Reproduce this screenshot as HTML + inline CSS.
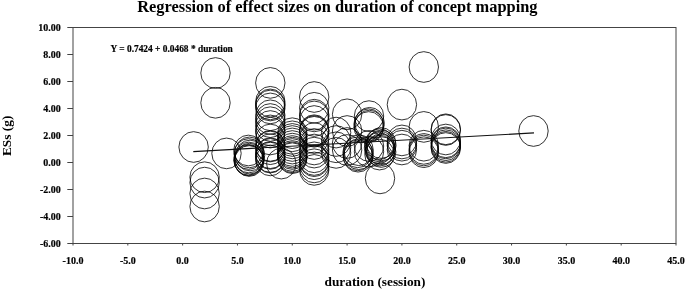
<!DOCTYPE html>
<html><head><meta charset="utf-8"><title>chart</title>
<style>html,body{margin:0;padding:0;background:#fff;}body{width:685px;height:290px;overflow:hidden;}svg{display:block;will-change:transform;}text{font-family:"Liberation Serif",serif;font-weight:bold;fill:#000;}</style>
</head><body>
<svg width="685" height="290" viewBox="0 0 685 290">
<rect x="0" y="0" width="685" height="290" fill="#fff"/>
<g fill="none" stroke="#444" stroke-width="1">
<rect x="73.0" y="27.5" width="603.0" height="216.0"/>
<line x1="73.00" y1="243.5" x2="73.00" y2="245.5"/>
<line x1="127.82" y1="243.5" x2="127.82" y2="245.5"/>
<line x1="182.64" y1="243.5" x2="182.64" y2="245.5"/>
<line x1="237.45" y1="243.5" x2="237.45" y2="245.5"/>
<line x1="292.27" y1="243.5" x2="292.27" y2="245.5"/>
<line x1="347.09" y1="243.5" x2="347.09" y2="245.5"/>
<line x1="401.91" y1="243.5" x2="401.91" y2="245.5"/>
<line x1="456.73" y1="243.5" x2="456.73" y2="245.5"/>
<line x1="511.55" y1="243.5" x2="511.55" y2="245.5"/>
<line x1="566.36" y1="243.5" x2="566.36" y2="245.5"/>
<line x1="621.18" y1="243.5" x2="621.18" y2="245.5"/>
<line x1="676.00" y1="243.5" x2="676.00" y2="245.5"/>
<line x1="67.3" y1="27.50" x2="73.0" y2="27.50"/>
<line x1="67.3" y1="54.50" x2="73.0" y2="54.50"/>
<line x1="67.3" y1="81.50" x2="73.0" y2="81.50"/>
<line x1="67.3" y1="108.50" x2="73.0" y2="108.50"/>
<line x1="67.3" y1="135.50" x2="73.0" y2="135.50"/>
<line x1="67.3" y1="162.50" x2="73.0" y2="162.50"/>
<line x1="67.3" y1="189.50" x2="73.0" y2="189.50"/>
<line x1="67.3" y1="216.50" x2="73.0" y2="216.50"/>
<line x1="67.3" y1="243.50" x2="73.0" y2="243.50"/>
</g>
<g fill="none" stroke="#000" stroke-width="0.8">
<ellipse cx="193.6" cy="147.0" rx="14.7" ry="15.35"/>
<ellipse cx="204.6" cy="177.2" rx="14.7" ry="15.35"/>
<ellipse cx="204.6" cy="182.6" rx="14.7" ry="15.35"/>
<ellipse cx="204.6" cy="193.5" rx="14.7" ry="15.35"/>
<ellipse cx="204.6" cy="206.5" rx="14.7" ry="15.35"/>
<ellipse cx="215.5" cy="73.0" rx="14.7" ry="15.35"/>
<ellipse cx="215.5" cy="102.8" rx="14.7" ry="15.35"/>
<ellipse cx="226.5" cy="153.4" rx="14.7" ry="15.35"/>
<ellipse cx="248.4" cy="150.5" rx="14.7" ry="15.35"/>
<ellipse cx="249.4" cy="152.4" rx="14.7" ry="15.35"/>
<ellipse cx="248.7" cy="154.0" rx="14.7" ry="15.35"/>
<ellipse cx="250.0" cy="155.5" rx="14.7" ry="15.35"/>
<ellipse cx="248.9" cy="157.5" rx="14.7" ry="15.35"/>
<ellipse cx="249.6" cy="158.7" rx="14.7" ry="15.35"/>
<ellipse cx="248.4" cy="159.8" rx="14.7" ry="15.35"/>
<ellipse cx="249.2" cy="161.0" rx="14.7" ry="15.35"/>
<ellipse cx="248.8" cy="160.4" rx="14.7" ry="15.35"/>
<ellipse cx="270.3" cy="82.9" rx="14.7" ry="15.35"/>
<ellipse cx="270.3" cy="101.8" rx="14.7" ry="15.35"/>
<ellipse cx="270.3" cy="104.4" rx="14.7" ry="15.35"/>
<ellipse cx="270.3" cy="105.5" rx="14.7" ry="15.35"/>
<ellipse cx="270.3" cy="108.4" rx="14.7" ry="15.35"/>
<ellipse cx="270.3" cy="115.3" rx="14.7" ry="15.35"/>
<ellipse cx="270.3" cy="119.0" rx="14.7" ry="15.35"/>
<ellipse cx="270.3" cy="122.2" rx="14.7" ry="15.35"/>
<ellipse cx="270.3" cy="126.0" rx="14.7" ry="15.35"/>
<ellipse cx="270.3" cy="130.4" rx="14.7" ry="15.35"/>
<ellipse cx="270.3" cy="132.6" rx="14.7" ry="15.35"/>
<ellipse cx="270.3" cy="139.5" rx="14.7" ry="15.35"/>
<ellipse cx="270.3" cy="145.9" rx="14.7" ry="15.35"/>
<ellipse cx="270.3" cy="146.5" rx="14.7" ry="15.35"/>
<ellipse cx="270.3" cy="149.2" rx="14.7" ry="15.35"/>
<ellipse cx="270.3" cy="153.2" rx="14.7" ry="15.35"/>
<ellipse cx="270.3" cy="153.9" rx="14.7" ry="15.35"/>
<ellipse cx="270.3" cy="157.0" rx="14.7" ry="15.35"/>
<ellipse cx="270.3" cy="157.6" rx="14.7" ry="15.35"/>
<ellipse cx="270.3" cy="160.4" rx="14.7" ry="15.35"/>
<ellipse cx="281.3" cy="163.6" rx="14.7" ry="15.35"/>
<ellipse cx="292.3" cy="133.2" rx="14.7" ry="15.35"/>
<ellipse cx="292.3" cy="136.3" rx="14.7" ry="15.35"/>
<ellipse cx="292.3" cy="138.9" rx="14.7" ry="15.35"/>
<ellipse cx="292.3" cy="141.0" rx="14.7" ry="15.35"/>
<ellipse cx="292.3" cy="143.4" rx="14.7" ry="15.35"/>
<ellipse cx="292.3" cy="146.0" rx="14.7" ry="15.35"/>
<ellipse cx="292.3" cy="148.6" rx="14.7" ry="15.35"/>
<ellipse cx="292.3" cy="151.0" rx="14.7" ry="15.35"/>
<ellipse cx="292.3" cy="152.6" rx="14.7" ry="15.35"/>
<ellipse cx="292.3" cy="154.0" rx="14.7" ry="15.35"/>
<ellipse cx="292.3" cy="156.0" rx="14.7" ry="15.35"/>
<ellipse cx="292.3" cy="157.3" rx="14.7" ry="15.35"/>
<ellipse cx="292.3" cy="158.2" rx="14.7" ry="15.35"/>
<ellipse cx="314.2" cy="97.0" rx="14.7" ry="15.35"/>
<ellipse cx="314.2" cy="107.8" rx="14.7" ry="15.35"/>
<ellipse cx="314.2" cy="114.7" rx="14.7" ry="15.35"/>
<ellipse cx="314.2" cy="116.4" rx="14.7" ry="15.35"/>
<ellipse cx="314.2" cy="121.0" rx="14.7" ry="15.35"/>
<ellipse cx="314.2" cy="130.2" rx="14.7" ry="15.35"/>
<ellipse cx="314.2" cy="131.0" rx="14.7" ry="15.35"/>
<ellipse cx="314.2" cy="131.8" rx="14.7" ry="15.35"/>
<ellipse cx="314.2" cy="138.1" rx="14.7" ry="15.35"/>
<ellipse cx="314.2" cy="144.0" rx="14.7" ry="15.35"/>
<ellipse cx="314.2" cy="149.5" rx="14.7" ry="15.35"/>
<ellipse cx="314.2" cy="152.6" rx="14.7" ry="15.35"/>
<ellipse cx="314.2" cy="157.3" rx="14.7" ry="15.35"/>
<ellipse cx="314.2" cy="160.0" rx="14.7" ry="15.35"/>
<ellipse cx="314.2" cy="161.2" rx="14.7" ry="15.35"/>
<ellipse cx="314.2" cy="164.2" rx="14.7" ry="15.35"/>
<ellipse cx="314.2" cy="167.4" rx="14.7" ry="15.35"/>
<ellipse cx="314.2" cy="169.9" rx="14.7" ry="15.35"/>
<ellipse cx="336.1" cy="132.6" rx="14.7" ry="15.35"/>
<ellipse cx="336.1" cy="141.0" rx="14.7" ry="15.35"/>
<ellipse cx="336.1" cy="147.3" rx="14.7" ry="15.35"/>
<ellipse cx="336.1" cy="152.9" rx="14.7" ry="15.35"/>
<ellipse cx="347.1" cy="114.3" rx="14.7" ry="15.35"/>
<ellipse cx="347.1" cy="131.0" rx="14.7" ry="15.35"/>
<ellipse cx="347.1" cy="143.0" rx="14.7" ry="15.35"/>
<ellipse cx="347.1" cy="150.0" rx="14.7" ry="15.35"/>
<ellipse cx="358.6" cy="150.2" rx="14.7" ry="15.35"/>
<ellipse cx="357.6" cy="152.3" rx="14.7" ry="15.35"/>
<ellipse cx="358.7" cy="154.2" rx="14.7" ry="15.35"/>
<ellipse cx="357.7" cy="155.4" rx="14.7" ry="15.35"/>
<ellipse cx="358.1" cy="156.7" rx="14.7" ry="15.35"/>
<ellipse cx="369.0" cy="116.1" rx="14.7" ry="15.35"/>
<ellipse cx="369.6" cy="122.8" rx="14.7" ry="15.35"/>
<ellipse cx="368.6" cy="124.2" rx="14.7" ry="15.35"/>
<ellipse cx="369.3" cy="125.6" rx="14.7" ry="15.35"/>
<ellipse cx="368.7" cy="127.0" rx="14.7" ry="15.35"/>
<ellipse cx="369.0" cy="146.0" rx="14.7" ry="15.35"/>
<ellipse cx="369.0" cy="151.7" rx="14.7" ry="15.35"/>
<ellipse cx="381.0" cy="143.0" rx="14.7" ry="15.35"/>
<ellipse cx="379.4" cy="144.2" rx="14.7" ry="15.35"/>
<ellipse cx="381.4" cy="145.4" rx="14.7" ry="15.35"/>
<ellipse cx="380.0" cy="146.6" rx="14.7" ry="15.35"/>
<ellipse cx="379.0" cy="148.0" rx="14.7" ry="15.35"/>
<ellipse cx="380.8" cy="149.3" rx="14.7" ry="15.35"/>
<ellipse cx="380.0" cy="150.6" rx="14.7" ry="15.35"/>
<ellipse cx="381.2" cy="152.0" rx="14.7" ry="15.35"/>
<ellipse cx="379.5" cy="154.6" rx="14.7" ry="15.35"/>
<ellipse cx="380.0" cy="178.4" rx="14.7" ry="15.35"/>
<ellipse cx="401.9" cy="104.6" rx="14.7" ry="15.35"/>
<ellipse cx="401.9" cy="140.4" rx="14.7" ry="15.35"/>
<ellipse cx="401.9" cy="143.5" rx="14.7" ry="15.35"/>
<ellipse cx="401.9" cy="145.7" rx="14.7" ry="15.35"/>
<ellipse cx="401.9" cy="149.5" rx="14.7" ry="15.35"/>
<ellipse cx="423.8" cy="67.0" rx="14.7" ry="15.35"/>
<ellipse cx="423.8" cy="126.9" rx="14.7" ry="15.35"/>
<ellipse cx="423.8" cy="145.7" rx="14.7" ry="15.35"/>
<ellipse cx="423.8" cy="148.9" rx="14.7" ry="15.35"/>
<ellipse cx="423.8" cy="150.5" rx="14.7" ry="15.35"/>
<ellipse cx="423.8" cy="152.2" rx="14.7" ry="15.35"/>
<ellipse cx="445.8" cy="129.3" rx="14.7" ry="15.35"/>
<ellipse cx="445.8" cy="130.0" rx="14.7" ry="15.35"/>
<ellipse cx="445.8" cy="139.5" rx="14.7" ry="15.35"/>
<ellipse cx="445.8" cy="142.3" rx="14.7" ry="15.35"/>
<ellipse cx="445.8" cy="143.4" rx="14.7" ry="15.35"/>
<ellipse cx="445.8" cy="145.2" rx="14.7" ry="15.35"/>
<ellipse cx="445.8" cy="146.8" rx="14.7" ry="15.35"/>
<ellipse cx="445.8" cy="148.0" rx="14.7" ry="15.35"/>
<ellipse cx="533.5" cy="131.0" rx="14.7" ry="15.35"/>
</g>
<line x1="193.3" y1="151.6" x2="534" y2="132.9" stroke="#111" stroke-width="1.15"/>
<text id="title" x="337.4" y="11.6" font-size="16.4" text-anchor="middle">Regression of effect sizes on duration of concept mapping</text>
<g font-size="10" stroke="#000" stroke-width="0.18">
<text class="yl" x="60.8" y="31.2" text-anchor="end">10.00</text>
<text class="yl" x="60.8" y="58.2" text-anchor="end">8.00</text>
<text class="yl" x="60.8" y="85.2" text-anchor="end">6.00</text>
<text class="yl" x="60.8" y="112.2" text-anchor="end">4.00</text>
<text class="yl" x="60.8" y="139.2" text-anchor="end">2.00</text>
<text class="yl" x="60.8" y="166.2" text-anchor="end">0.00</text>
<text class="yl" x="60.8" y="193.2" text-anchor="end">-2.00</text>
<text class="yl" x="60.8" y="220.2" text-anchor="end">-4.00</text>
<text class="yl" x="60.8" y="247.2" text-anchor="end">-6.00</text>
<text class="xl" x="73.0" y="263.5" text-anchor="middle">-10.0</text>
<text class="xl" x="127.8" y="263.5" text-anchor="middle">-5.0</text>
<text class="xl" x="182.6" y="263.5" text-anchor="middle">0.0</text>
<text class="xl" x="237.5" y="263.5" text-anchor="middle">5.0</text>
<text class="xl" x="292.3" y="263.5" text-anchor="middle">10.0</text>
<text class="xl" x="347.1" y="263.5" text-anchor="middle">15.0</text>
<text class="xl" x="401.9" y="263.5" text-anchor="middle">20.0</text>
<text class="xl" x="456.7" y="263.5" text-anchor="middle">25.0</text>
<text class="xl" x="511.5" y="263.5" text-anchor="middle">30.0</text>
<text class="xl" x="566.4" y="263.5" text-anchor="middle">35.0</text>
<text class="xl" x="621.2" y="263.5" text-anchor="middle">40.0</text>
<text class="xl" x="676.0" y="263.5" text-anchor="middle">45.0</text>
</g>
<text id="eq" x="110.5" y="52" font-size="9.4" stroke="#000" stroke-width="0.18">Y = 0.7424 + 0.0468 * duration</text>
<text id="ylab" transform="translate(11.2,135.8) rotate(-90)" font-size="13.4" text-anchor="middle">ESs (g)</text>
<text id="xlab" x="375" y="286" font-size="13.3" text-anchor="middle">duration (session)</text>
</svg></body></html>
